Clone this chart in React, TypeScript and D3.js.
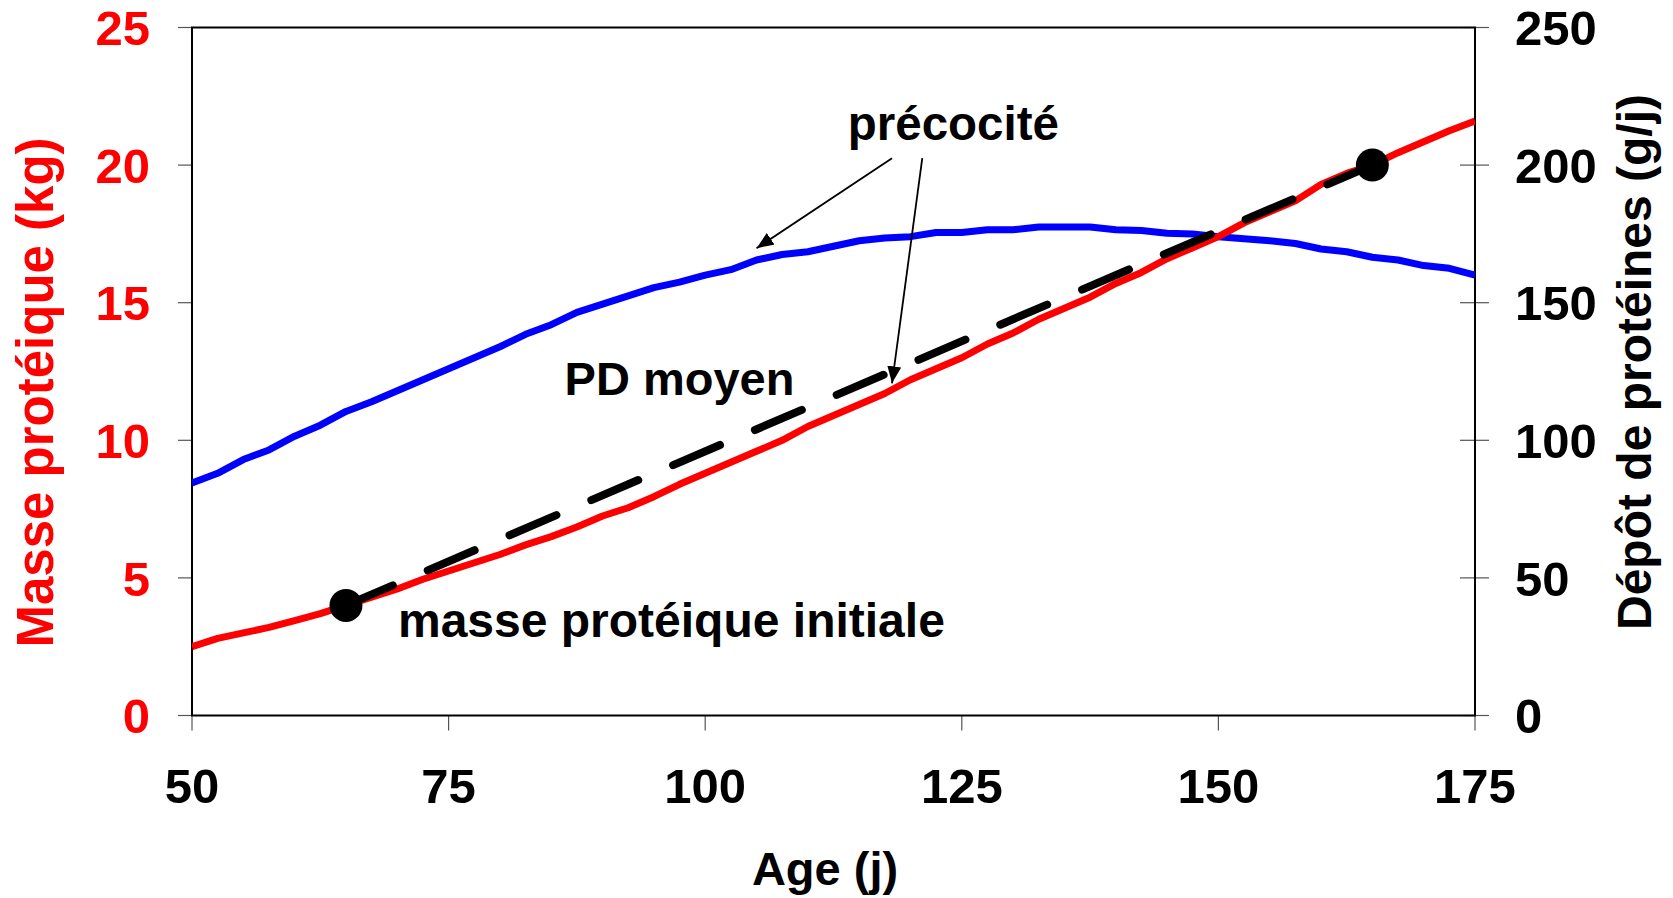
import React from 'react';
import * as d3 from 'd3';

// Age (days)
const days = [50, 52.5, 55, 57.5, 60, 62.5, 65, 67.5, 70, 72.5, 75, 77.5, 80, 82.5, 85, 87.5, 90, 92.5, 95, 97.5, 100, 102.5, 105, 107.5, 110, 112.5, 115, 117.5, 120, 122.5, 125, 127.5, 130, 132.5, 135, 137.5, 140, 142.5, 145, 147.5, 150, 152.5, 155, 157.5, 160, 162.5, 165, 167.5, 170, 172.5, 175];
// Masse protéique (kg) - left axis
const proteinMass = [2.5, 2.8, 3.0, 3.2, 3.45, 3.7, 4.0, 4.3, 4.6, 4.95, 5.25, 5.55, 5.85, 6.2, 6.5, 6.85, 7.25, 7.55, 7.95, 8.4, 8.8, 9.2, 9.6, 10.0, 10.5, 10.9, 11.3, 11.7, 12.2, 12.6, 13.0, 13.5, 13.9, 14.4, 14.8, 15.2, 15.7, 16.1, 16.6, 17.0, 17.4, 17.9, 18.3, 18.7, 19.3, 19.7, 20.0, 20.45, 20.85, 21.25, 21.6];
// Dépôt de protéines (g/j) - right axis
const proteinDeposition = [84.5, 88, 93, 96.5, 101.5, 105.5, 110.5, 114, 118, 122, 126, 130, 134, 138.5, 142, 146.5, 149.5, 152.5, 155.5, 157.5, 160, 162, 165.5, 167.5, 168.5, 170.5, 172.5, 173.5, 174, 175.5, 175.5, 176.5, 176.5, 177.5, 177.5, 177.5, 176.5, 176.2, 175.2, 175, 174, 173.2, 172.5, 171.5, 169.5, 168.5, 166.5, 165.5, 163.5, 162.5, 160];
// PD moyen (dashed line between the two markers)
const markerDays = [65, 165];
const markerMass = [4, 20];

const xTicks = [50, 75, 100, 125, 150, 175];
const leftTicks = [0, 5, 10, 15, 20, 25];
const rightTicks = [0, 50, 100, 150, 200, 250];

// annotation arrows in data units [day, kg]
const arrowStarts = [[118.2, 20.25], [121.15, 20.25]];
const arrowEnds = [[105.0, 16.98], [118.2, 12.07]];

const W = 1673;
const H = 898;
const M = { left: 192, right: 1475, top: 27.5, bottom: 715.5 };
const FONT = '"Liberation Sans", Arial, Helvetica, sans-serif';

export default function App() {
  const x = d3.scaleLinear().domain([50, 175]).range([M.left, M.right]);
  const yL = d3.scaleLinear().domain([0, 25]).range([M.bottom, M.top]);
  const yR = d3.scaleLinear().domain([0, 250]).range([M.bottom, M.top]);

  const redLine = d3.line<number>().x((_, i) => x(days[i])).y((d) => yL(d))(proteinMass) || '';
  const blueLine = d3.line<number>().x((_, i) => x(days[i])).y((d) => yR(d))(proteinDeposition) || '';
  const dashLine = d3.line<number>().x((_, i) => x(markerDays[i])).y((d) => yL(d))(markerMass) || '';

  return (
    <svg width={W} height={H} style={{ position: 'absolute', left: 0, top: 0, background: '#fff' }} fontFamily={FONT} fontWeight="bold">
      <defs>
        <marker id="arr" markerUnits="userSpaceOnUse" markerWidth="18" markerHeight="14" refX="17" refY="7" orient="auto">
          <path d="M0,0 L17,7 L0,14 z" fill="#000" />
        </marker>
        <clipPath id="plot">
          <rect x={M.left} y={M.top} width={M.right - M.left} height={M.bottom - M.top} />
        </clipPath>
      </defs>

      {/* ticks */}
      {leftTicks.map((t) => (
        <line key={'lt' + t} x1={M.left - 14} x2={M.left} y1={yL(t)} y2={yL(t)} stroke="#555" strokeWidth={1.2} />
      ))}
      {rightTicks.map((t) => (
        <line key={'rt' + t} x1={M.right - 15} x2={M.right + 14} y1={yR(t)} y2={yR(t)} stroke="#555" strokeWidth={1.2} />
      ))}
      {xTicks.map((t) => (
        <line key={'xt' + t} x1={x(t)} x2={x(t)} y1={M.bottom} y2={M.bottom + 15} stroke="#555" strokeWidth={1.2} />
      ))}

      {/* frame */}
      <rect x={M.left} y={M.top} width={M.right - M.left} height={M.bottom - M.top} fill="none" stroke="#000" strokeWidth={2} />

      {/* series */}
      <g clipPath="url(#plot)">
        <path d={blueLine} fill="none" stroke="#0000FF" strokeWidth={7} strokeLinejoin="round" />
        <path d={redLine} fill="none" stroke="#FF0000" strokeWidth={7} strokeLinejoin="round" />
      </g>
      <path d={dashLine} fill="none" stroke="#000" strokeWidth={8} strokeDasharray="51 38" strokeLinecap="round" />
      {markerDays.map((d, i) => (
        <circle key={'m' + d} cx={x(d)} cy={yL(markerMass[i])} r={16.5} fill="#000" />
      ))}

      {/* arrows */}
      {arrowStarts.map((s, i) => (
        <line key={'a' + i} x1={x(s[0])} y1={yL(s[1])} x2={x(arrowEnds[i][0])} y2={yL(arrowEnds[i][1])} stroke="#000" strokeWidth={1.8} markerEnd="url(#arr)" />
      ))}

      {/* tick labels */}
      {leftTicks.map((t) => (
        <text key={'ll' + t} x={150} y={yL(t)} dy="0.36em" textAnchor="end" fontSize={49} fill="#FF0000">{t}</text>
      ))}
      {rightTicks.map((t) => (
        <text key={'rl' + t} x={1515} y={yR(t)} dy="0.36em" textAnchor="start" fontSize={49} fill="#000">{t}</text>
      ))}
      {xTicks.map((t) => (
        <text key={'xl' + t} x={x(t)} y={803} textAnchor="middle" fontSize={49} fill="#000">{t}</text>
      ))}

      {/* axis titles */}
      <text transform={`translate(53,${(M.top + M.bottom) / 2 + 21}) rotate(-90)`} textAnchor="middle" fontSize={51} fill="#FF0000">Masse protéique (kg)</text>
      <text transform={`translate(1651,362) rotate(-90)`} textAnchor="middle" fontSize={48} fill="#000">Dépôt de protéines (g/j)</text>
      <text x={825} y={885} textAnchor="middle" fontSize={47} fill="#000">Age (j)</text>

      {/* annotations */}
      <text x={x(113.9)} y={yL(20.91)} fontSize={48} fill="#000" textLength={211} lengthAdjust="spacingAndGlyphs">précocité</text>
      <text x={x(86.3)} y={yL(11.65)} fontSize={47} fill="#000">PD moyen</text>
      <text x={x(70.07)} y={yL(2.85)} fontSize={48} fill="#000">masse protéique initiale</text>
    </svg>
  );
}
